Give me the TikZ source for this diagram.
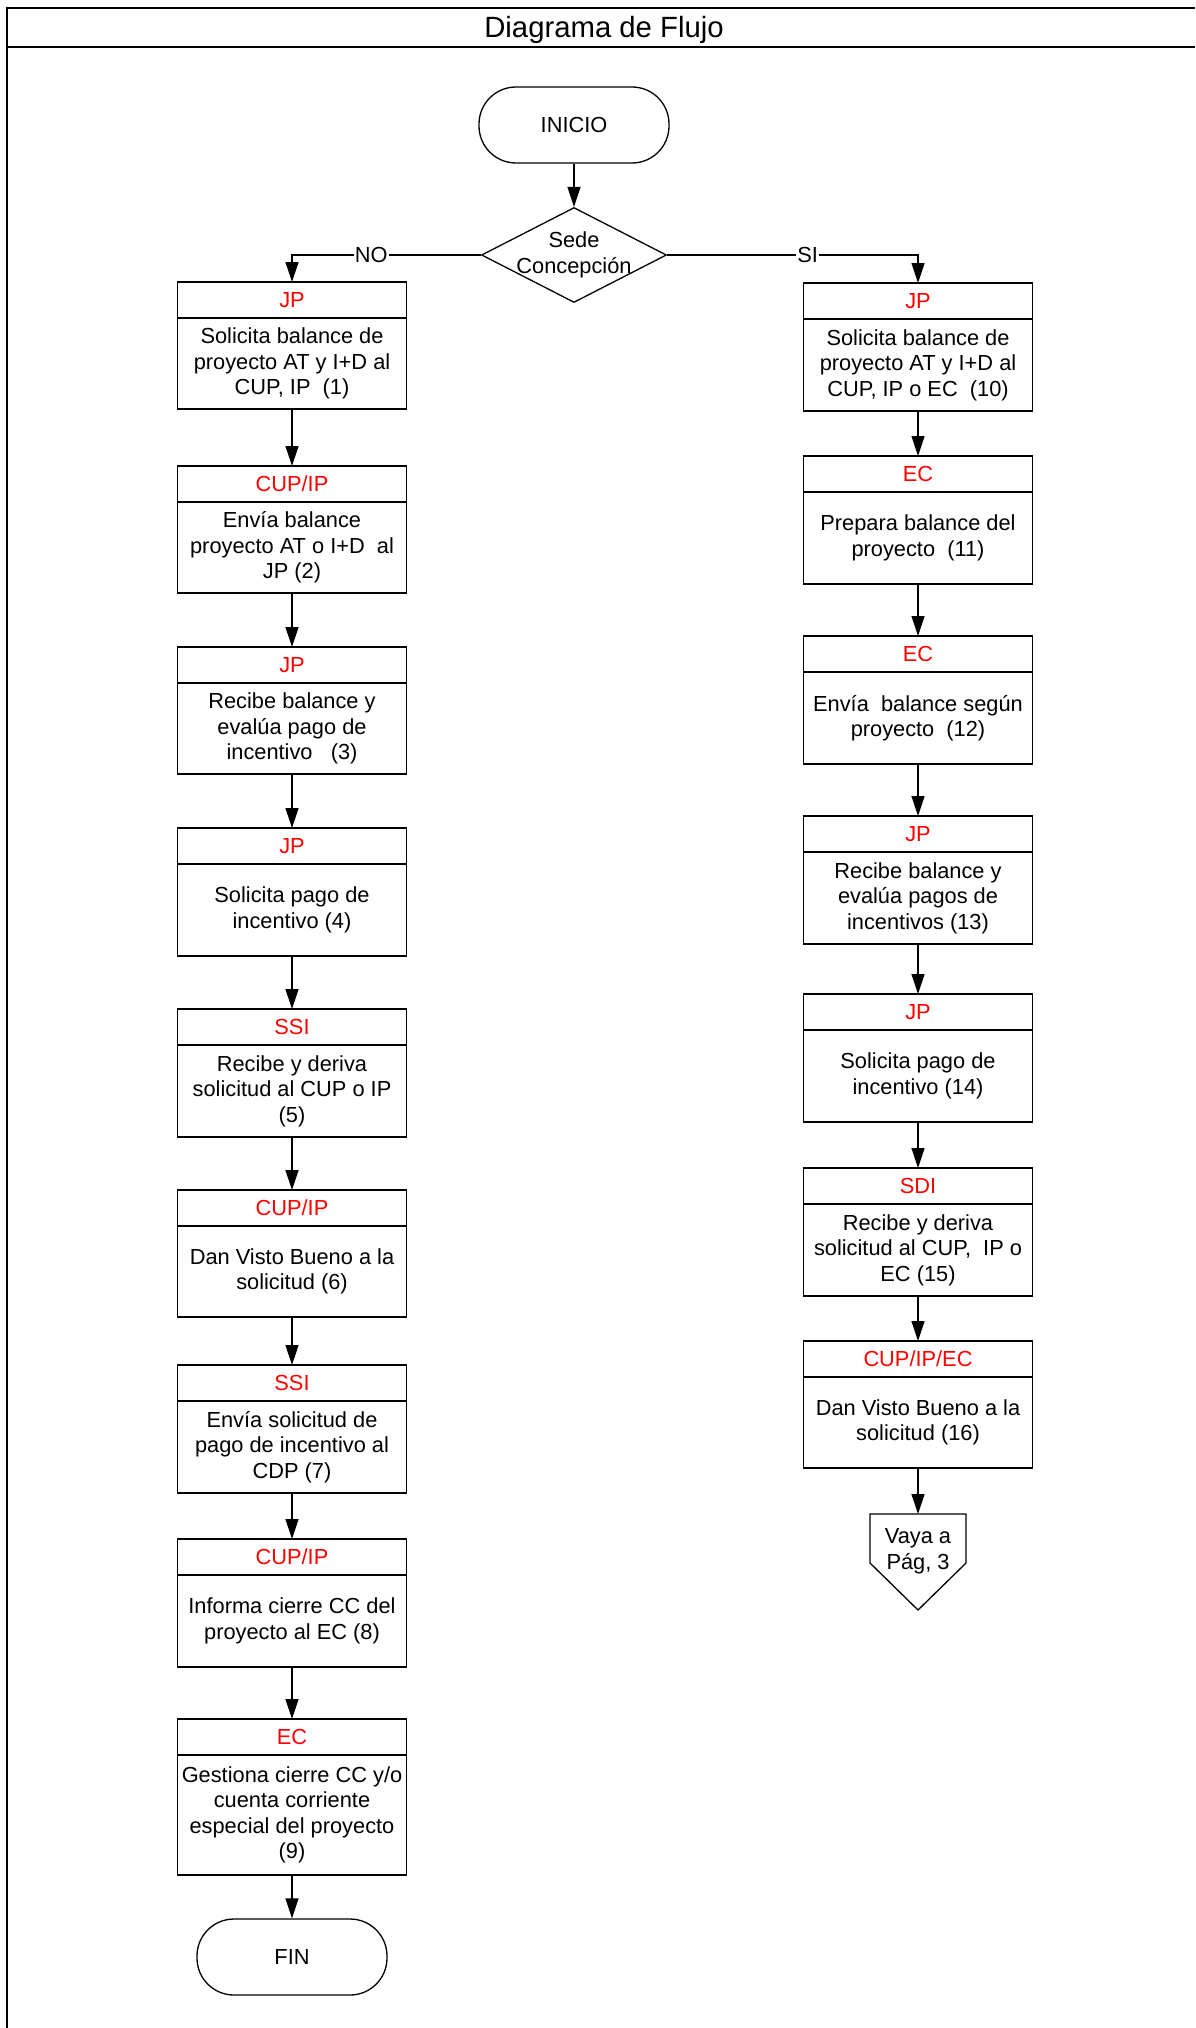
\documentclass[tikz,border=0pt]{standalone}
\usepackage{fontspec}
\setmainfont{Liberation Sans}
\usepackage{xcolor}
\usepackage{tikz}
\usetikzlibrary{calc}
\usetikzlibrary{positioning}
\usetikzlibrary{shapes.geometric}
\usetikzlibrary{arrows.meta}
\newcommand{\boxfont}{\fontsize{21.8}{25.5}\selectfont}
\tikzstyle{frame} = [draw=black, line width=2.2pt]
\tikzstyle{titletext} = [font=\fontsize{29.3}{32}\selectfont]
\tikzstyle{headbox} = [draw=black, line width=1.3pt, rectangle, minimum width=229pt,
minimum height=36pt, inner sep=0pt, outer sep=0pt, text=red, font=\boxfont]
\tikzstyle{bodybox} = [draw=black, line width=1.3pt, rectangle, minimum width=229pt,
inner sep=0pt, outer sep=0pt, align=center, font=\boxfont]
\tikzstyle{terminal} = [draw=black, line width=1.3pt, rectangle, rounded corners=37pt,
minimum width=190pt, minimum height=76pt, font=\boxfont]
\tikzstyle{decision} = [draw=black, line width=1.3pt, diamond, minimum width=185pt,
minimum height=95pt, inner sep=-20pt, align=center, font=\boxfont]
\tikzstyle{answer} = [fill=white, inner sep=1pt, font=\boxfont]
\tikzstyle{pagetext} = [align=center, font=\boxfont]
\tikzstyle{flow} = [draw=black, line width=1.3pt, -{Triangle[length=20pt,width=13pt]}]
\newcommand{\procbox}[6]{%
\node [headbox, anchor=north] (#1-head) at (#2,#3) {#4};
\node [bodybox, minimum height=#6pt, below=0pt of #1-head] (#1) {#5};
}

\begin{document}
\begin{tikzpicture}[x=1pt, y=-1pt]
        \useasboundingbox (0,0) rectangle (1195,2028);
        % marco
        \draw [frame] (6.7,7.7) -- (1195,7.7);
        \draw [frame] (6.7,47.2) -- (1195,47.2);
        \draw [frame] (6.7,6.6) -- (6.7,2028);
        \node [titletext] (title) at (604,30) {Diagrama de Flujo};

        \node [terminal] (inicio) at (574,125) {INICIO};
        \node [decision] (sede) at (574,255) {Sede\\Concepción};

        % NO
        \procbox{b1}{292}{282}{JP}{Solicita balance de\\proyecto AT y I+D al\\CUP, IP~ (1)}{91}
        \procbox{b2}{292}{466}{CUP/IP}{Envía balance\\proyecto AT o I+D~ al\\JP (2)}{91}
        \procbox{b3}{292}{647}{JP}{Recibe balance y\\evalúa pago de\\incentivo~~ (3)}{91}
        \procbox{b4}{292}{828}{JP}{Solicita pago de\\incentivo (4)}{92}
        \procbox{b5}{292}{1009}{SSI}{Recibe y deriva\\solicitud al CUP o IP\\(5)}{92}
        \procbox{b6}{292}{1190}{CUP/IP}{Dan Visto Bueno a la\\solicitud (6)}{91}
        \procbox{b7}{292}{1365}{SSI}{Envía solicitud de\\pago de incentivo al\\CDP (7)}{92}
        \procbox{b8}{292}{1539}{CUP/IP}{Informa cierre CC del\\proyecto al EC (8)}{92}
        \procbox{b9}{292}{1719}{EC}{Gestiona cierre CC y/o\\cuenta corriente\\especial del proyecto\\(9)}{120}
        \node [terminal] (fin) at (292,1957) {FIN};

        % SI
        \procbox{b10}{918}{283}{JP}{Solicita balance de\\proyecto AT y I+D al\\CUP, IP o EC~ (10)}{92}
        \procbox{b11}{918}{456}{EC}{Prepara balance del\\proyecto~ (11)}{92}
        \procbox{b12}{918}{636}{EC}{Envía~ balance según\\proyecto~ (12)}{92}
        \procbox{b13}{918}{816}{JP}{Recibe balance y\\evalúa pagos de\\incentivos (13)}{92}
        \procbox{b14}{918}{994}{JP}{Solicita pago de\\incentivo (14)}{92}
        \procbox{b15}{918}{1168}{SDI}{Recibe y deriva\\solicitud al CUP,~ IP o\\EC (15)}{92}
        \procbox{b16}{918}{1341}{CUP/IP/EC}{Dan Visto Bueno a la\\solicitud (16)}{91}

        % conector fuera de pagina
        \coordinate (vaya) at (918,1514);
        \draw [line width=1.3pt] (vaya) -- (966,1514) -- (966,1563) -- (918,1610)
            -- (870,1563) -- (870,1514) -- cycle;
        \node [pagetext] (vayatext) at (918,1551) {Vaya a\\Pág, 3};

        \draw [flow] (inicio) -- (sede);
        \draw [flow] (sede.west) -| node [answer, pos=0.29] {NO} (b1-head.north);
        \draw [flow] (sede.east) -| node [answer, pos=0.28] {SI} (b10-head.north);
        \foreach \a/\b in {b1/b2, b2/b3, b3/b4, b4/b5, b5/b6, b6/b7, b7/b8, b8/b9,
            b10/b11, b11/b12, b12/b13, b13/b14, b14/b15, b15/b16}
            \draw [flow] (\a.south) -- (\b-head.north);
        \draw [flow] (b9.south) -- (fin.north);
        \draw [flow] (b16.south) -- (vaya);
    \end{tikzpicture}
\end{document}
